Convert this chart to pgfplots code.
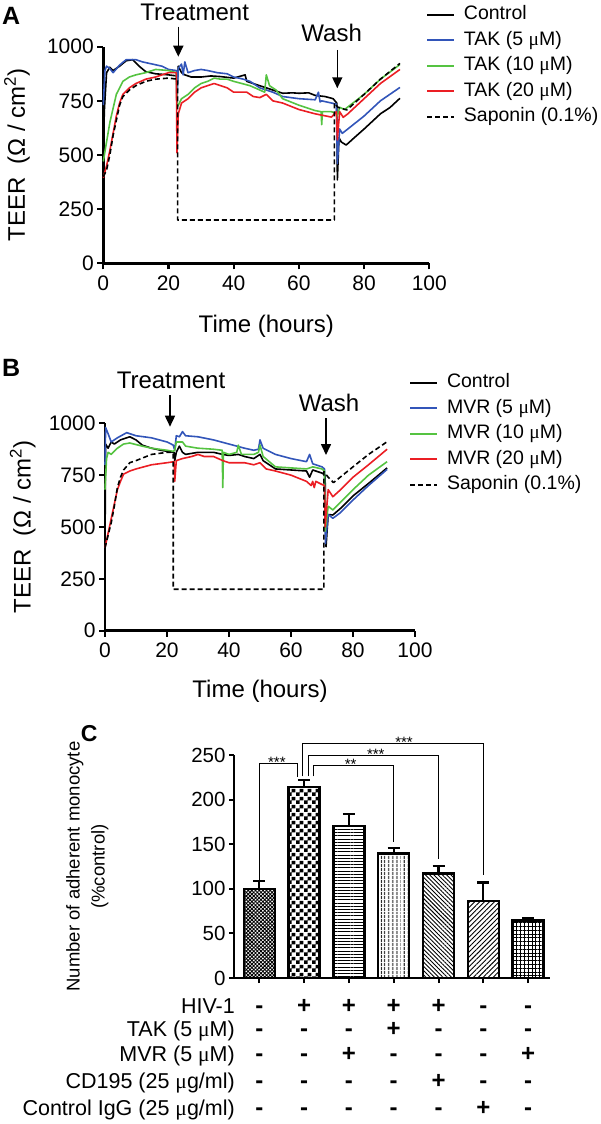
\documentclass[border=0pt]{standalone}
\usepackage{fontspec}
\setmainfont{Liberation Sans}
\newfontfamily\serifmu{Liberation Serif}
\usepackage{pgfplots}
\pgfplotsset{compat=1.18}
\usetikzlibrary{arrows.meta,patterns,patterns.meta}
\definecolor{cblue}{RGB}{50,85,185}
\definecolor{cgreen}{RGB}{85,195,65}
\definecolor{cred}{RGB}{235,30,36}
\newcommand{\mum}{{\serifmu μ}}
\newcommand{\fsz}[1]{\fontsize{#1}{#1}\selectfont}
\pgfdeclarepatternformonly{smallcheck}{\pgfpointorigin}{\pgfqpoint{8pt}{8pt}}{\pgfqpoint{8pt}{8pt}}{%
  \pgfpathrectangle{\pgfpointorigin}{\pgfqpoint{4pt}{4pt}}%
  \pgfpathrectangle{\pgfqpoint{4pt}{4pt}}{\pgfqpoint{4pt}{4pt}}%
  \pgfusepath{fill}}
\pgfplotsset{
  teer/.style={
    scale only axis, xmin=0, xmax=100, ymin=0, ymax=1000,
    axis x line*=bottom, axis y line*=left,
    axis line style={line width=2.6pt},
    xtick={0,20,...,100}, ytick={0,250,...,1000},
    tick align=outside, major tick length=6pt,
    tick style={line width=2.2pt, black},
    tick label style={font=\fsz{21}},
    xticklabel style={yshift=-3pt},
    /pgf/number format/assume math mode=true,
    /pgf/number format/1000 sep={},
    xlabel={Time (hours)}, ylabel={TEER\ \ (Ω / cm\textsuperscript{2})},
    label style={font=\fsz{24}},
    xlabel style={at={(axis description cs:0.5,-0.29)}, anchor=center},
    ylabel style={at={(axis description cs:-0.265,0.5)}, anchor=center},
    clip=false,
    legend cell align=left,
    legend image code/.code={\draw[##1, line width=1.7pt] (0pt,0pt) -- (27pt,0pt);},
    legend style={draw=none, fill=none, font=\fsz{19.5}, column sep=9pt, row sep=7.5pt, inner sep=0pt,
      nodes={inner sep=0pt, text height=14pt, text depth=4pt}},
    every axis plot/.append style={line width=1.6pt, line join=round},
  }
}
\begin{document}
\begin{tikzpicture}
\path[use as bounding box] (0pt,0pt) rectangle (600pt,-1124pt);

%================ Panel A ================
\begin{axis}[teer, width=326pt, height=216.6pt, at={(103.3pt,-263.3pt)}, anchor=south west,
  legend style={at={(axis description cs:0.99,1.19)}, anchor=north west}]
\addplot[black] table {
0 420
0.3 700
1 880
2 905
3 890
4 900
5 910
7 935
9 940
11 910
13 885
16 875
20 870
22.5 865
22.7 830
23 910
24 880
25 870
27 860
30 860
33 865
36 862
40 855
43.5 870
44 840
47 825
50 810
52 800
55 785
58 787
60 785
63 787
65 775
68 770
70.5 760
71.6 740
71.8 385
72.3 580
73 560
74.5 546
77 580
80 620
85 690
88 720
91 762
};
\addlegendentry{Control}
\addplot[cblue] table {
0 730
0.5 890
1 910
2 900
3 880
5 915
7 940
10 940
12 930
15 920
18 910
20 895
22.4 890
22.6 740
23 900
24 920
24.5 870
25 930
26 880
28 890
30 895
32 890
35 880
38 875
40 860
43 850
45 840
48 810
50 800
52 790
55 770
60 760
65 755
66 790
66.5 745
67 750
70 740
71.5 735
71.8 460
72.5 620
73.3 600
75 620
80 680
85 750
91 812
};
\addlegendentry{TAK (5 \mum M)}
\addplot[cgreen] table {
0 470
1 560
2 650
4 780
6 840
8 860
10 870
13 880
16 895
20 890
22.4 880
22.6 720
23 730
24 760
26 780
28 810
30 830
32 840
34 855
36 850
38 850
40 840
45 820
48 800
49.5 790
50 870
51 820
53 800
55 760
60 730
65 705
66.8 700
67 640
67.2 700
70 700
71.6 690
71.8 680
72.5 720
74 710
80 780
85 850
91 918
};
\addlegendentry{TAK (10 \mum M)}
\addplot[cred] table {
0 395
1 450
2 520
3 600
4 680
5 740
6 780
8 810
10 830
13 850
16 860
20 880
22.4 880
22.6 510
23 690
24 740
26 760
28 790
30 810
32 820
34 830
36 820
38 810
40 790
44 790
46 770
48 765
50 780
52 750
55 740
60 710
65 690
70 675
71.5 700
71.8 570
72.5 700
73.6 674
75 690
80 760
85 830
91 895
};
\addlegendentry{TAK (20 \mum M)}
\addplot[black, dash pattern=on 5pt off 3pt] table {
0 400
1 430
2 500
3 590
4 660
5 730
6 770
8 800
10 820
13 840
16 850
20 855
22.8 850
22.8 200
70.9 200
70.9 740
72 720
74.7 708
80 780
85 850
91 923
};
\addlegendentry{Saponin (0.1\%)}
\end{axis}

%================ Panel B ================
\begin{axis}[teer, width=310pt, height=207.4pt, at={(105pt,-630.7pt)}, anchor=south west,
  legend style={at={(axis description cs:0.981,1.24)}, anchor=north west}]
\addplot[black] table {
0 400
0.2 900
1 880
2 910
3 900
5 920
8 935
10 920
12 895
15 880
18 870
20 865
22.3 860
22.5 820
23 860
24 890
25 860
26 850
30 860
35 860
38 850
40 845
43 850
45 840
48 830
50 850
51 820
53 800
55 780
60 775
65 770
66 740
67 775
70 760
71 750
71.3 405
72 560
73.5 558
76 590
80 650
85 710
91 785
};
\addlegendentry{Control}
\addplot[cblue] table {
0 800
0.2 980
1 950
2 910
4 930
7 955
10 940
15 930
20 910
22 895
22.5 870
23 940
24 935
25 960
26 940
30 935
35 920
40 900
45 880
48 870
49.5 875
50 920
51 880
55 850
60 830
65 815
66 850
67 805
70 790
70.8 780
71.1 420
72 560
73.5 542
76 570
80 630
85 700
91 778
};
\addlegendentry{MVR (5 \mum M)}
\addplot[cgreen] table {
0 680
0.5 830
1 860
2 850
4 880
6 900
8 905
12 890
15 880
20 870
22 865
22.5 870
23 910
25 910
26 890
30 880
35 875
37.8 870
38 690
38.2 860
40 850
42.5 860
43 895
44 850
48 850
49.5 860
50 895
51 840
55 790
60 785
65 780
67 790
70 780
70.8 770
71 480
72 600
73.5 582
76 620
80 680
85 750
91 815
};
\addlegendentry{MVR (10 \mum M)}
\addplot[cred] table {
0 400
1 470
2 540
3 610
4 680
5 720
6 755
8 770
10 780
15 800
20 810
22.3 815
22.5 720
23 820
25 830
28 840
30 850
32 840
35 840
38 820
40 810
45 810
48 800
50 810
52 780
55 770
60 750
65 720
66.5 700
67 720
67.5 690
68 720
70 705
70.8 700
71 500
72 680
73.5 646
76 680
80 740
85 800
91 875
};
\addlegendentry{MVR (20 \mum M)}
\addplot[black, dash pattern=on 5pt off 3pt] table {
0 400
1 460
2 520
3 600
4 690
5 740
6 775
8 810
10 820
15 850
20 860
22 860
22 200
70.6 200
70.6 767
72 740
73.7 714
80 790
85 850
91 911
};
\addlegendentry{Saponin (0.1\%)}
\end{axis}

%================ Panel C ================
\begin{axis}[scale only axis, width=316pt, height=223pt, at={(234pt,-978pt)}, anchor=south west,
  xmin=0.433, xmax=7.49, ymin=0, ymax=250,
  axis x line*=bottom, axis y line*=left,
  axis line style={line width=2.6pt},
  ytick={0,50,...,250}, xtick={1,...,7}, xticklabels={},
  tick align=outside, major tick length=5pt,
  tick style={line width=2pt, black},
  tick label style={font=\fsz{20.5}},
  /pgf/number format/assume math mode=true,
  ylabel={Number of adherent monocyte\\(\%control)},
  ylabel style={align=center, font=\fontsize{18.5}{25}\selectfont, at={(axis description cs:-0.464,0.5)}, anchor=center},
  clip=false,
  ybar, bar width=31pt,
  error bars/y dir=plus, error bars/y explicit,
  error bars/error bar style={line width=2.2pt, black},
  error bars/error mark options={rotate=90, mark size=6pt, line width=2.2pt, black},
]
\addplot[bar shift=0pt, draw=black, line width=2.5pt, pattern={Hatch[angle=45,distance=2.6pt,line width=0.9pt]}] coordinates {(1,100) +- (0,8.7)};
\addplot[bar shift=0pt, draw=black, line width=2.5pt, pattern=smallcheck] coordinates {(2,214) +- (0,8)};
\addplot[bar shift=0pt, draw=black, line width=2.5pt, pattern={Lines[angle=0,distance=3.2pt,line width=1pt]}] coordinates {(3,170.4) +- (0,13.6)};
\addplot[bar shift=0pt, draw=black, line width=2.5pt, pattern={Lines[angle=90,distance=4pt,line width=1pt]}] coordinates {(4,139.8) +- (0,6.2)};
\addplot[bar shift=0pt, draw=black, line width=2.5pt, pattern={Lines[angle=-45,distance=3pt,line width=0.9pt]}] coordinates {(5,117.4) +- (0,8.6)};
\addplot[bar shift=0pt, draw=black, line width=2.5pt, pattern={Lines[angle=45,distance=3.5pt,line width=0.9pt]}] coordinates {(6,86.3) +- (0,20.7)};
\addplot[bar shift=0pt, draw=black, line width=2.5pt, pattern={Hatch[angle=0,distance=3.8pt,line width=0.9pt]}] coordinates {(7,64.3) +- (0,2.7)};
% significance brackets
\draw[line width=0.9pt] (axis cs:1,110) -- (axis cs:1,240.7) -- (axis cs:1.85,240.7) -- (axis cs:1.85,225);
\draw[line width=0.9pt] (axis cs:2.2,226) -- (axis cs:2.2,238) -- (axis cs:4,238) -- (axis cs:4,153);
\draw[line width=0.9pt] (axis cs:2.09,226) -- (axis cs:2.09,250) -- (axis cs:5,250) -- (axis cs:5,133);
\draw[line width=0.9pt] (axis cs:1.97,226) -- (axis cs:1.97,263) -- (axis cs:6,263) -- (axis cs:6,115);
\node[font=\fsz{15}, anchor=base, yshift=-4pt] at (axis cs:1.39,240.7) {***};
\node[font=\fsz{15}, anchor=base, yshift=-4pt] at (axis cs:3.04,238) {**};
\node[font=\fsz{15}, anchor=base, yshift=-4pt] at (axis cs:3.6,250) {***};
\node[font=\fsz{15}, anchor=base, yshift=-4pt] at (axis cs:4.23,263) {***};
\end{axis}

% treatment table
\node[font=\fsz{21.5}, anchor=base east, inner sep=0pt] at (235pt,-1013.3pt) {HIV-1};
\node[font=\fsz{21.5}, anchor=base east, inner sep=0pt] at (235pt,-1036.7pt) {TAK (5 \mum M)};
\node[font=\fsz{21.5}, anchor=base east, inner sep=0pt] at (235pt,-1061.7pt) {MVR (5 \mum M)};
\node[font=\fsz{21.5}, anchor=base east, inner sep=0pt] at (235pt,-1088.3pt) {CD195 (25 \mum g/ml)};
\node[font=\fsz{21.5}, anchor=base east, inner sep=0pt] at (235pt,-1115pt) {Control IgG (25 \mum g/ml)};
\foreach \row/\yy in {{-,+,+,+,+,-,-}/1013.3, {-,-,-,+,-,-,-}/1036.7, {-,-,+,-,-,-,+}/1061.7, {-,-,-,-,+,-,-}/1088.3, {-,-,-,-,-,+,-}/1115}
  {\foreach \s [count=\i from 0] in \row
    {\node[font=\bfseries\fsz{24}, anchor=base, inner sep=0pt] at ({259.4pt+44.78pt*\i},-\yy pt) {\s};}}

%================ annotations ================
\node[font=\bfseries\fsz{25}, anchor=base west, inner sep=0pt] at (2pt,-25pt) {A};
\node[font=\bfseries\fsz{25}, anchor=base west, inner sep=0pt] at (2pt,-376pt) {B};
\node[font=\bfseries\fsz{23}, anchor=base west, inner sep=0pt] at (80.7pt,-741.7pt) {C};
\node[font=\fsz{24}, anchor=base, inner sep=0pt] at (194.7pt,-20.7pt) {Treatment};
\draw[line width=1.6pt, -{Triangle[length=11pt,width=10pt]}] (178.3pt,-26.7pt) -- (178.3pt,-56.7pt);
\node[font=\fsz{24}, anchor=base, inner sep=0pt] at (331.7pt,-41.7pt) {Wash};
\draw[line width=1.6pt, -{Triangle[length=11pt,width=10pt]}] (337.3pt,-50pt) -- (337.3pt,-88.3pt);
\node[font=\fsz{24}, anchor=base, inner sep=0pt] at (171pt,-388.3pt) {Treatment};
\draw[line width=1.6pt, -{Triangle[length=11pt,width=10pt]}] (170pt,-395pt) -- (170pt,-426.7pt);
\node[font=\fsz{24}, anchor=base, inner sep=0pt] at (329pt,-411.7pt) {Wash};
\draw[line width=1.6pt, -{Triangle[length=11pt,width=10pt]}] (326pt,-418pt) -- (326pt,-455pt);
\end{tikzpicture}
\end{document}
